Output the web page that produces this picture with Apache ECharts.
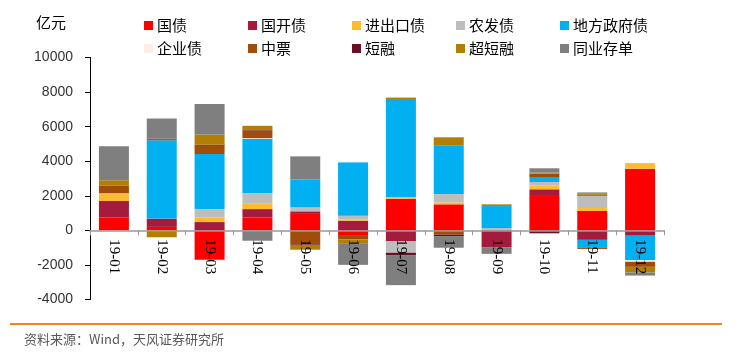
<!DOCTYPE html>
<html>
<head>
<meta charset="utf-8">
<script src="https://cdn.jsdelivr.net/npm/echarts@6/dist/echarts.min.js"></script>
<style>html,body{margin:0;padding:0;background:#fff;}#c{width:739px;height:357px;}</style>
</head>
<body>
<div id="c"></div>
<script>
const categories = ['19-01','19-02','19-03','19-04','19-05','19-06','19-07','19-08','19-09','19-10','19-11','19-12'];
const guozhai   = [750, 200, -1700, 750, 1000, -320, 1830, 1505, 0, 1990, 1120, 3560];
const guokai    = [950, 480, 480, 480, 100, 560, -640, 0, -970, 385, -550, -310];
const jinchukou = [400, 0, 270, 310, 0, 60, 80, 115, 0, 230, 175, 330];
const nongfa    = [50, 0, 480, 600, 230, 230, -655, 480, 130, 193, 720, 0];
const difang    = [0, 4530, 3185, 3145, 1620, 3090, 5690, 2820, 1275, 290, -465, -1420];
const qiye      = [0, 0, 0, 50, 0, 60, 0, 0, 0, 0, 0, -90];
const zhongpiao = [450, 50, 480, 445, -800, -210, 0, -250, 0, 193, -60, -290];
const duanrong  = [0, 50, 60, 60, -40, 0, -135, -80, 0, -170, 40, 0];
const chaoduan  = [300, -400, 580, 210, -280, -250, 80, 463, 100, 60, 60, -330];
const tongye    = [1970, 1160, 1775, -600, 1330, -1215, -1740, -675, -390, 250, 80, -175];
const yTicks = {min: -4000, max: 10000, interval: 2000};

const seriesDefs = [
  ['国债', guozhai, '#FF0000'],
  ['国开债', guokai, '#A51B3D'],
  ['进出口债', jinchukou, '#FDBB2F'],
  ['农发债', nongfa, '#BDBDBD'],
  ['地方政府债', difang, '#00B0F0'],
  ['企业债', qiye, '#FCEEE6'],
  ['中票', zhongpiao, '#A04C0A'],
  ['短融', duanrong, '#6A0F24'],
  ['超短融', chaoduan, '#B07F04'],
  ['同业存单', tongye, '#7F7F7F']
];

const W = 739, H = 357;
const gridTop = 57.5, gridBottom = 57.5;
const gridH = H - gridTop - gridBottom;
// move the category axis (line, ticks, labels) up to the zero line
const zeroOffset = -gridH * (0 - yTicks.min) / (yTicks.max - yTicks.min);

const chart = echarts.init(document.getElementById('c'));
chart.setOption({
  animation: false,
  backgroundColor: '#fff',
  grid: {left: 90, right: 75, top: gridTop, bottom: gridBottom},
  legend: {
    left: 139, top: 9, width: 530,
    itemWidth: 9, itemHeight: 9, itemGap: 0,
    icon: 'rect',
    textStyle: {fontSize: 15, width: 91, lineHeight: 23, color: '#000', fontFamily: 'Noto Sans CJK SC', padding: [0, 0, 0, -1]},
    data: seriesDefs.map(d => d[0])
  },
  xAxis: {
    type: 'category', data: categories, z: 10,
    offset: zeroOffset,
    axisLine: {onZero: false, lineStyle: {color: '#999', width: 1.5}},
    axisTick: {show: true, length: 5, lineStyle: {color: '#999'}},
    axisLabel: {rotate: -90, margin: 9, fontSize: 15, color: '#000', fontFamily: 'Liberation Serif'}
  },
  yAxis: {
    type: 'value', min: yTicks.min, max: yTicks.max, interval: yTicks.interval,
    axisLine: {show: true, lineStyle: {color: '#000', width: 1}},
    axisTick: {show: true, length: 5, lineStyle: {color: '#000'}},
    splitLine: {show: false},
    axisLabel: {fontSize: 14, color: '#333', margin: 17, fontFamily: 'Liberation Sans', formatter: v => String(v)}
  },
  series: seriesDefs.map(d => ({
    name: d[0], type: 'bar', stack: 'total', data: d[1], barWidth: 30,
    itemStyle: {color: d[2]}
  })),
  graphic: [
    {type: 'text', left: 36, top: 15, style: {text: '亿元', fontSize: 15, fill: '#000', fontFamily: 'Noto Sans CJK SC'}},
    {type: 'line', shape: {x1: 10, y1: 324, x2: 722, y2: 324}, style: {stroke: '#F0841E', lineWidth: 2}},
    {type: 'text', left: 24, top: 333, style: {text: '资料来源：Wind，天风证券研究所', fontSize: 13, fill: '#595959', fontFamily: 'Noto Sans CJK SC'}}
  ]
});
</script>
</body>
</html>
